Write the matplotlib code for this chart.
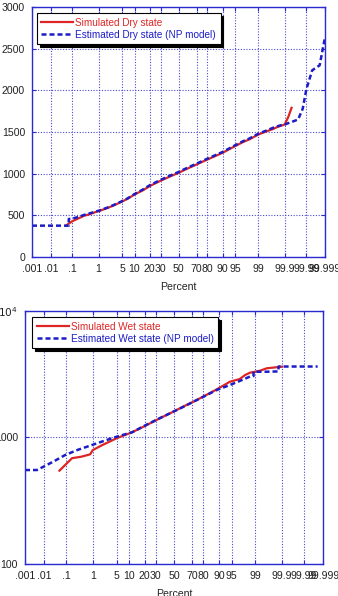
import matplotlib
matplotlib.use('Agg')
import matplotlib.pyplot as plt
import numpy as np
from statistics import NormalDist

plt.rcParams['font.family'] = ['Liberation Sans', 'DejaVu Sans']

# Data (percent, value)
dry_sim_p = [0.052, 0.1, 0.2, 0.3, 0.5, 0.8, 1, 2, 3, 5, 7, 10, 15, 20, 30, 40, 50, 60, 70, 80,
             90, 95, 97, 98, 99, 99.5, 99.7, 99.8, 99.9, 99.93, 99.95]
dry_sim_v = [376, 430, 470, 495, 515, 540, 550, 590, 620, 665, 700, 750, 800, 850, 915, 965, 1010, 1060, 1110, 1170,
             1250, 1330, 1380, 1410, 1470, 1510, 1535, 1560, 1590, 1680, 1790]

dry_est_p = [0.001, 0.07, 0.07, 0.1, 0.2, 0.3, 0.5, 1, 2, 3, 5, 7, 10, 15, 20, 30, 40, 50, 60, 70, 80,
             90, 95, 97, 98, 99, 99.5, 99.7, 99.85, 99.9, 99.95, 99.975, 99.985, 99.99, 99.995, 99.998, 99.999]
dry_est_v = [376, 376, 456, 460, 485, 505, 525, 555, 595, 625, 670, 705, 755, 810, 860, 925, 975, 1020, 1070, 1120, 1180,
             1260, 1340, 1390, 1420, 1480, 1520, 1550, 1580, 1590, 1620, 1650, 1780, 2010, 2240, 2300, 2640]

wet_sim_p = [0.052, 0.175, 0.4, 0.82, 1, 2, 5, 11.5, 20, 34, 48, 60, 71, 80, 89, 94.5, 97, 97.9, 98.5,
             99.3, 99.6, 99.9]
wet_sim_v = [547, 686, 705, 736, 795, 871, 986, 1100, 1230, 1416, 1585, 1750, 1918, 2110, 2405, 2760, 2900, 3120, 3250,
             3370, 3525, 3630]

wet_est_p = [0.001, 0.0043, 0.0096, 0.03, 0.093, 0.3, 0.94, 2, 5, 11.5, 20, 34, 48, 60, 71, 80, 89, 94.5, 97,
             98.5, 98.85, 98.85, 99.6, 99.86, 99.86, 99.998]
wet_est_v = [553, 553, 589, 650, 728, 800, 872, 930, 1014, 1100, 1240, 1420, 1585, 1740, 1918, 2100, 2380, 2600, 2800,
             3030, 3060, 3310, 3310, 3330, 3640, 3640]

tick_p = [0.001, 0.01, 0.1, 1, 5, 10, 20, 30, 50, 70, 80, 90, 95, 99, 99.9, 99.99, 99.999]
tick_lbl = ['.001', '.01', '.1', '1', '5', '10', '20', '30', '50', '70', '80', '90', '95', '99',
            '99.9', '99.99', '99.999']

# normal probability scale
_nd = NormalDist()
_ppf = np.vectorize(lambda p: _nd.inv_cdf(min(max(p / 100.0, 1e-12), 1 - 1e-12)), otypes=[float])
_cdf = np.vectorize(lambda z: _nd.cdf(z) * 100.0, otypes=[float])


def fwd(p):
    return _ppf(np.asarray(p, dtype=float))


def inv(z):
    return _cdf(np.asarray(z, dtype=float))


red = '#dd2525'
blue = '#1c1cc8'
gridc = '#4a4ad0'
axc = '#2a2ad0'

fig = plt.figure(figsize=(3.38, 5.96), dpi=100)
ax1 = fig.add_axes([0.0947, 0.5688, 0.867, 0.4195])
ax2 = fig.add_axes([0.074, 0.0537, 0.882, 0.4245])


def style(ax):
    ax.set_xscale('function', functions=(fwd, inv))
    ax.set_xlim(0.001, 99.999)
    ax.set_xticks(tick_p)
    ax.set_xticklabels(tick_lbl)
    ax.minorticks_off()
    ax.grid(True, which='major', linestyle=(0, (1, 1.5)), color=gridc, linewidth=0.8)
    for s in ax.spines.values():
        s.set_color(axc)
        s.set_linewidth(1.0)
    ax.tick_params(direction='in', top=True, right=True, color=axc, labelsize=7.6,
                   labelcolor='#222222', length=3, pad=5)
    ax.set_xlabel('Percent', fontsize=7.6, color='#222222', labelpad=6)


ax1.plot(dry_sim_p, dry_sim_v, color=red, lw=1.6, label='Simulated Dry state')
ax1.plot(dry_est_p, dry_est_v, color=blue, lw=1.8, linestyle=(0, (2, 1.2)), label='Estimated Dry state (NP model)')
style(ax1)
ax1.set_ylim(0, 3000)
ax1.set_yticks([0, 500, 1000, 1500, 2000, 2500, 3000])
leg1 = ax1.legend(loc='upper left', bbox_to_anchor=(0.017, 0.975), fontsize=7.2, labelcolor='linecolor',
                  fancybox=False, shadow={'color': 'black', 'alpha': 1}, edgecolor='black', framealpha=1,
                  handlelength=3.2, handletextpad=0.2, borderpad=0.45, labelspacing=0.2, borderaxespad=0)
leg1.get_frame().set_linewidth(0.8)

ax2.plot(wet_sim_p, wet_sim_v, color=red, lw=1.6, label='Simulated Wet state')
ax2.plot(wet_est_p, wet_est_v, color=blue, lw=1.8, linestyle=(0, (2, 1.2)), label='Estimated Wet state (NP model)')
style(ax2)
ax2.set_yscale('log')
ax2.set_ylim(100, 10000)
ax2.set_yticks([100, 1000, 10000])
ax2.set_yticklabels(['100', '1000', '$10^4$'])
ax2.minorticks_off()
ax2.grid(True, which='major', linestyle=(0, (1, 1.5)), color=gridc, linewidth=0.8)
leg2 = ax2.legend(loc='upper left', bbox_to_anchor=(0.025, 0.975), fontsize=7.2, labelcolor='linecolor',
                  fancybox=False, shadow={'color': 'black', 'alpha': 1}, edgecolor='black', framealpha=1,
                  handlelength=3.2, handletextpad=0.2, borderpad=0.45, labelspacing=0.2, borderaxespad=0)
leg2.get_frame().set_linewidth(0.8)

fig.savefig('out.png', dpi=100)
